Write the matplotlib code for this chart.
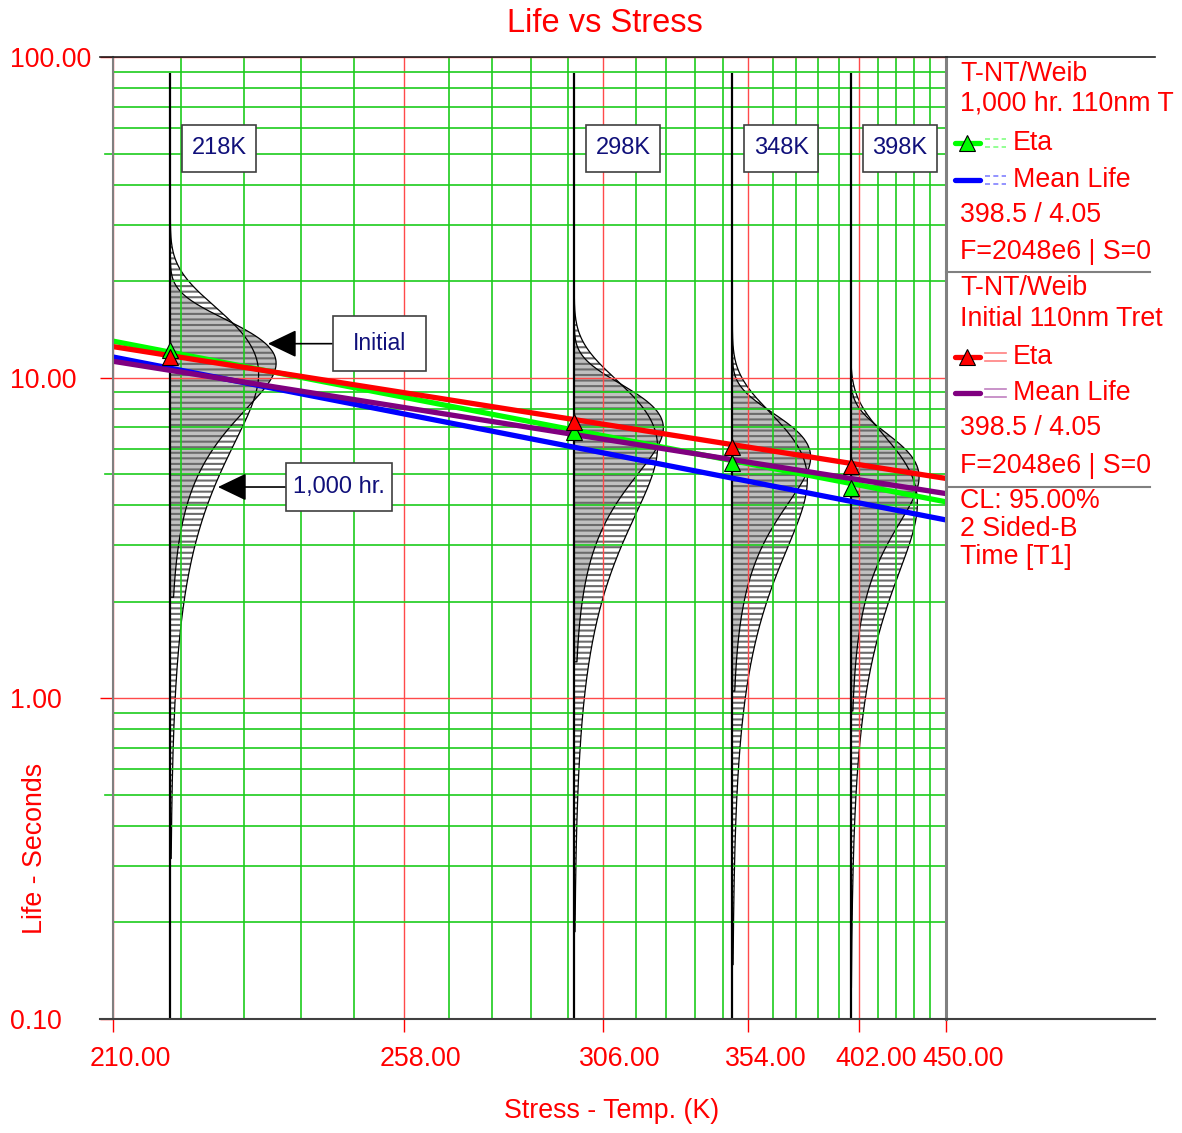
import numpy as np
import matplotlib.pyplot as plt
from matplotlib.lines import Line2D
from matplotlib.transforms import ScaledTranslation

plt.rcParams['font.family'] = ['Liberation Sans', 'DejaVu Sans']
plt.rcParams['hatch.linewidth'] = 1.5

# ------------------------------------------------------------
# Data
# ------------------------------------------------------------
STRESS = [218, 298, 348, 398]                  # test temperatures (K)
STRESS_NAMES = ['218K', '298K', '348K', '398K']

ETA_INITIAL = [11.6, 7.26, 6.07, 5.29]         # red triangles
ETA_1000HR = [12.2, 6.76, 5.41, 4.52]          # green triangles

LINE_TEMPS = [210, 450]                        # life-stress lines, ends
ETA_INITIAL_LINE = [12.5, 4.85]
MEAN_INITIAL_LINE = [11.25, 4.35]
ETA_1000HR_LINE = [13.0, 4.1]
MEAN_1000HR_LINE = [11.6, 3.6]

# weibull pdfs drawn sideways at every stress level
PDF_INITIAL_ETA = [12.2, 7.67, 6.22, 5.39]
PDF_1000HR_ETA = [12.6, 7.45, 5.88, 4.98]
PDF_INITIAL_BETA = 3.5
PDF_1000HR_BETA = 2.5

X_TICKS = [210, 258, 306, 354, 402, 450]
X_TICK_LABELS = ['210.00', '258.00', '306.00', '354.00', '402.00', '450.00']
Y_TICKS = [0.1, 1, 10, 100]
Y_TICK_LABELS = ['0.10', '1.00', '10.00', '100.00']

# the second line of the first block runs off the right edge in the original
LEGEND_1000HR = ['T-NT/Weib', '1,000 hr. 110nm T', 'Eta', 'Mean Life',
                 '398.5 / 4.05', 'F=2048e6 | S=0']
LEGEND_INITIAL = ['T-NT/Weib', 'Initial 110nm Tret', 'Eta', 'Mean Life',
                  '398.5 / 4.05', 'F=2048e6 | S=0']
LEGEND_CL = ['CL: 95.00%', '2 Sided-B', 'Time [T1]']

# ------------------------------------------------------------
# Layout / style
# ------------------------------------------------------------
W, H = 1182, 1133
RED = '#ff0000'
GRID_GREEN = '#1ccc1c'
GRID_RED = '#ff4a4a'
NAVY = '#10107a'
PDF_INITIAL_WIDTH = [0.127, 0.107, 0.094, 0.082]   # peak width, axes fraction
PDF_1000HR_WIDTH = [0.106, 0.100, 0.090, 0.080]
FS = 19.3


def fx(x):
    return x / W


def fy(y):
    return 1 - y / H


def fig_line(fig, x0, x1, y0, y1, **kw):
    fig.add_artist(Line2D([fx(x0), fx(x1)], [fy(y0), fy(y1)], **kw))


def label_box(pad, aspect):
    return dict(boxstyle=f'square,pad={pad}', mutation_aspect=aspect,
                facecolor='white', edgecolor='#404040', linewidth=1.2)


def weibull_pdf(t, eta, beta):
    x = t / eta
    return beta / eta * x ** (beta - 1) * np.exp(-x ** beta)


def axes_x(ax, temp):
    """Position of a temperature along the x axis, as axes fraction."""
    disp = ax.transData.transform((temp, 1.0))
    return ax.transAxes.inverted().transform(disp)[0]


def draw_pdf(ax, temp, eta, beta, width, face, f_low):
    t_lo = eta * (-np.log(1 - f_low)) ** (1 / beta)
    t_hi = eta * (-np.log(1e-5)) ** (1 / beta)
    t = np.geomspace(t_lo, t_hi, 400)
    f = weibull_pdf(t, eta, beta)
    f = f / f.max() * width
    x0 = axes_x(ax, temp)
    trans = ax.get_yaxis_transform()
    ax.fill_betweenx(t, x0, x0 + f, transform=trans, facecolor=face,
                     edgecolor='#6b6b6b', hatch='---', linewidth=0, zorder=0.3)
    return np.r_[x0, x0 + f, x0], np.r_[t[0], t, t[-1]]


# ------------------------------------------------------------
# Figure
# ------------------------------------------------------------
fig = plt.figure(figsize=(W / 100, H / 100), dpi=100)
ax = fig.add_axes([fx(113), fy(1019), (946 - 113) / W, (1019 - 57) / H])

ax.set_xscale('function', functions=(lambda T: -1.0 / T, lambda u: -1.0 / u))
ax.set_yscale('log')
ax.set_xlim(210, 450)
ax.set_ylim(0.1, 100)

# grid
x_minor = [t for t in np.arange(210, 450.1, 9.6) if min(abs(t - m) for m in X_TICKS) > 1]
y_minor = [d * m for d in [0.1, 1, 10] for m in range(2, 10)]
ax.set_xticks(X_TICKS, labels=X_TICK_LABELS)
ax.set_xticks(x_minor, minor=True)
ax.set_yticks(Y_TICKS, labels=Y_TICK_LABELS)
ax.set_yticks(y_minor, minor=True)
ax.yaxis.set_minor_formatter(plt.NullFormatter())
ax.set_axisbelow(True)
ax.grid(which='major', color=GRID_RED, linewidth=1.0)
ax.grid(which='minor', color=GRID_GREEN, linewidth=1.2)

ax.tick_params(which='minor', length=0)
ax.tick_params(axis='x', which='major', length=9.4, width=1, direction='out',
               colors=RED, labelsize=FS, pad=10)
ax.tick_params(axis='y', which='major', length=9.4, width=1, direction='out',
               colors=RED, labelsize=FS, pad=64.8)
for lab in ax.get_yticklabels():
    lab.set_ha('left')
shift = ScaledTranslation(0.17, 0, fig.dpi_scale_trans)
for lab in ax.get_xticklabels():
    lab.set_transform(lab.get_transform() + shift)
ticks = ax.xaxis.get_major_ticks()
for tk in (ticks[0], ticks[-1]):
    tk.tick1line.set_color('#808080')

for v in [0.5, 5, 50]:
    ax.axhline(v, xmin=-0.01, xmax=0, clip_on=False, color=GRID_GREEN, lw=1.2)

for side in ['top', 'bottom']:
    ax.spines[side].set_visible(False)
ax.spines['left'].set_color('#808080')
ax.spines['left'].set_linewidth(1.5)
ax.spines['right'].set_color('#808080')
ax.spines['right'].set_linewidth(2.2)

# pdfs
outlines = []
for i, temp in enumerate(STRESS):
    outlines.append(draw_pdf(ax, temp, PDF_1000HR_ETA[i], PDF_1000HR_BETA,
                             PDF_1000HR_WIDTH[i], 'white', 1e-4))
    outlines.append(draw_pdf(ax, temp, PDF_INITIAL_ETA[i], PDF_INITIAL_BETA,
                             PDF_INITIAL_WIDTH[i], '#c0c0c0', 2e-3))
for xs, ts in outlines:
    ax.plot(xs, ts, transform=ax.get_yaxis_transform(), color='black', lw=0.9, zorder=0.4)

ax.vlines(STRESS, 0.1, 89, color='black', lw=1.6, zorder=1)

# life-stress lines
ax.plot(LINE_TEMPS, ETA_1000HR_LINE, color='#00ff00', lw=3.8, solid_capstyle='round', zorder=2)
ax.plot(LINE_TEMPS, MEAN_1000HR_LINE, color='#0000ff', lw=3.8, solid_capstyle='round', zorder=2)
ax.plot(LINE_TEMPS, MEAN_INITIAL_LINE, color='#800080', lw=3.8, solid_capstyle='round', zorder=2)
ax.plot(LINE_TEMPS, ETA_INITIAL_LINE, color='#ff0000', lw=3.8, solid_capstyle='round', zorder=2)

ax.plot(STRESS, ETA_1000HR, linestyle='none', marker='^', markersize=11,
        markerfacecolor='#00ff00', markeredgecolor='black', markeredgewidth=0.8, zorder=3)
ax.plot(STRESS, ETA_INITIAL, linestyle='none', marker='^', markersize=11,
        markerfacecolor='#ff0000', markeredgecolor='black', markeredgewidth=0.8, zorder=3)

# stress labels
for temp, name in zip(STRESS, STRESS_NAMES):
    ax.annotate(name, xy=(temp, 0.905), xycoords=('data', 'axes fraction'),
                xytext=(15.5, 0), textcoords='offset points', ha='left', va='center',
                fontsize=17, color=NAVY, bbox=label_box(0.4, 1.3), zorder=4)

arrow = dict(arrowstyle='-|>,head_length=1.0,head_width=0.48', mutation_scale=18,
             color='black', lw=1.2, shrinkA=0, shrinkB=0)
ax.annotate('Initial', xy=(0.186, 0.702), xycoords='axes fraction',
            xytext=(0.320, 0.702), textcoords='axes fraction', ha='center', va='center',
            fontsize=16.5, color=NAVY, zorder=4, bbox=label_box(0.88, 0.78),
            arrowprops=arrow)
ax.annotate('1,000 hr.', xy=(0.126, 0.553), xycoords='axes fraction',
            xytext=(0.2713, 0.553), textcoords='axes fraction', ha='center', va='center',
            fontsize=17, color=NAVY, zorder=4, bbox=label_box(0.3, 1.8),
            arrowprops=arrow)

# frame lines outside the axes
fig_line(fig, 100, 1155, 57, 57, color='#202020', lw=1.2)
fig_line(fig, 100, 1155, 1019, 1019, color='#404040', lw=1.5)
fig_line(fig, 946, 1150, 272, 272, color='#808080', lw=1.5)
fig_line(fig, 946, 1150, 487, 487, color='#808080', lw=1.5)

# titles
fig.text(fx(605), fy(24), 'Life vs Stress', fontsize=23.5, color=RED, ha='center', va='center')
fig.text(fx(612), fy(1111), 'Stress - Temp. (K)', fontsize=FS, color=RED, ha='center', va='center')
fig.text(fx(35), fy(848), 'Life - Seconds', fontsize=FS, color=RED, rotation=90,
         ha='center', va='center')

# ------------------------------------------------------------
# Legend panel (pixel coordinates)
# ------------------------------------------------------------
pax = fig.add_axes([fx(946), 0, (W - 946) / W, 1])
pax.set_xlim(946, W)
pax.set_ylim(H, 0)
pax.axis('off')


def panel_text(x, y, s):
    pax.text(x, y, s, fontsize=FS, color=RED, ha='left', va='center')


def legend_sample(y, color, light, dashed, marker):
    pax.plot([955, 980], [y, y], color=color, lw=3.8, solid_capstyle='round')
    if marker:
        pax.plot([967], [y], marker='^', markersize=11, markerfacecolor=color,
                 markeredgecolor='black', markeredgewidth=0.8)
    ls = (0, (3, 2)) if dashed else '-'
    for dy in (-4, 4):
        pax.plot([985, 1006], [y + dy, y + dy], color=light, lw=1.2, linestyle=ls)


rows_a = [74, 104, 143, 180, 215, 252]
rows_b = [288, 319, 357, 393, 428, 466]
for y, s in zip(rows_a, LEGEND_1000HR):
    panel_text(1013 if s in ('Eta', 'Mean Life') else 960, y, s)
for y, s in zip(rows_b, LEGEND_INITIAL):
    panel_text(1013 if s in ('Eta', 'Mean Life') else 960, y, s)
for y, s in zip([501, 529, 557], LEGEND_CL):
    panel_text(960, y, s)

legend_sample(rows_a[2], '#00ff00', '#80ff80', True, True)
legend_sample(rows_a[3], '#0000ff', '#8080ff', True, False)
legend_sample(rows_b[2], '#ff0000', '#ff8080', False, True)
legend_sample(rows_b[3], '#800080', '#c080c0', False, False)

fig.savefig('out.png', dpi=100)
